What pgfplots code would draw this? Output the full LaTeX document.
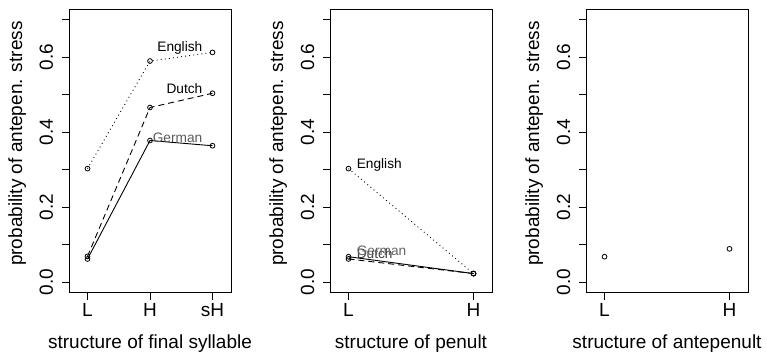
\documentclass[border=0pt]{standalone}
\usepackage{fontspec}
\setmainfont{Liberation Sans}
\usepackage{pgfplots}
\pgfplotsset{compat=1.18}
\tikzset{lab/.style={font=\fontsize{13.7bp}{15bp}\selectfont, inner sep=0pt}}
\begin{document}
\begin{tikzpicture}
\useasboundingbox (0,0) rectangle (767bp,354bp);
\pgfplotsset{
  panel/.style={
    scale only axis, width=162bp, height=283.4bp,
    anchor=south west,
    ymin=-0.028, ymax=0.728,
    ytick={0,0.1,0.2,0.3,0.4,0.5,0.6,0.7},
    yticklabels={0.0,,0.2,,0.4,,0.6,},
    tick align=outside, major tick length=7bp,
    tick pos=left,
    axis line style={line width=0.9bp},
    every tick/.style={line width=0.8bp, black},
    /pgf/number format/assume math mode=true,
    ticklabel style={font=\fontsize{19bp}{22bp}\selectfont, inner sep=0pt},
    xticklabel style={anchor=base, yshift=-17bp},
    yticklabel style={xshift=-9bp, rotate=90, anchor=base},
    xlabel style={at={(axis description cs:0.5,-0.196)}, anchor=base, inner sep=0pt, font=\fontsize{19bp}{22bp}\selectfont},
    ylabel style={at={(axis description cs:-0.29,0.526)}, anchor=base, inner sep=0pt, font=\fontsize{19bp}{22bp}\selectfont},
    ylabel={probability of antepen. stress},
    every axis plot/.append style={line width=0.9bp, black, mark=o, mark size=2.4bp, mark options={solid, line width=0.8bp}},
  },
  eng/.style={dash pattern=on 0.9bp off 3.2bp},
  dut/.style={dash pattern=on 6bp off 4bp},
  ger/.style={solid},
}
% Panel 1
\begin{axis}[panel, at={(69bp,61.3bp)},
  xmin=0.704, xmax=3.296, xtick={1,2,3}, xticklabels={L,H,sH},
  xlabel={structure of final syllable}]
\addplot[eng] coordinates {(1,0.303) (2,0.590) (3,0.613)};
\addplot[dut] coordinates {(1,0.069) (2,0.466) (3,0.504)};
\addplot[ger] coordinates {(1,0.062) (2,0.378) (3,0.364)};
\node[lab, anchor=base east] at (axis cs:2.84,0.615) {English};
\node[lab, anchor=base east] at (axis cs:2.84,0.504) {Dutch};
\node[lab, anchor=base east, text=black!65] at (axis cs:2.84,0.374) {German};
\end{axis}
% Panel 2
\begin{axis}[panel, at={(330bp,61.3bp)},
  xmin=0.852, xmax=2.148, xtick={1,2}, xticklabels={L,H},
  xlabel={structure of penult}]
\addplot[eng] coordinates {(1,0.303) (2,0.023)};
\addplot[dut] coordinates {(1,0.062) (2,0.023)};
\addplot[ger] coordinates {(1,0.068) (2,0.023)};
\node[lab, anchor=base west] at (axis cs:1.065,0.303) {English};
\node[lab, anchor=base west, text=black!75] at (axis cs:1.065,0.062) {Dutch};
\node[lab, anchor=base west, text=black!60] at (axis cs:1.065,0.071) {German};
\end{axis}
% Panel 3
\begin{axis}[panel, at={(586bp,61.3bp)},
  xmin=0.852, xmax=2.148, xtick={1,2}, xticklabels={L,H},
  xlabel={structure of antepenult}]
\addplot[only marks] coordinates {(1,0.068) (2,0.089)};
\end{axis}
\end{tikzpicture}
\end{document}
